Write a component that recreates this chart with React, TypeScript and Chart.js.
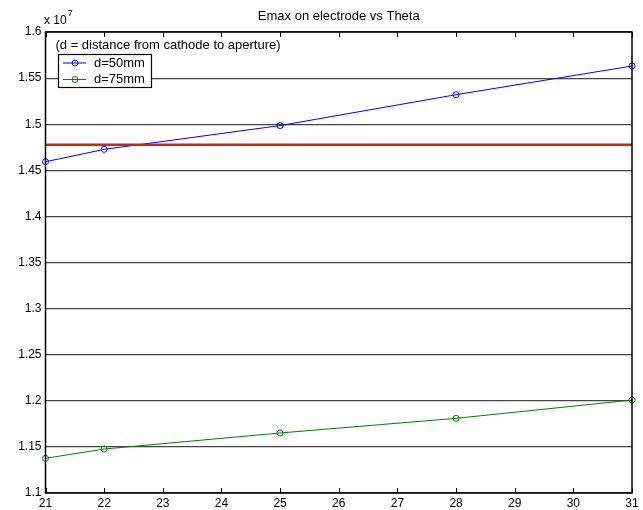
import React, { useEffect, useRef } from "react";
import { Chart, registerables } from "chart.js";

Chart.register(...registerables);

const thetaValues = [21, 22, 25, 28, 31];
const emaxD50 = [1.4593e7, 1.4727e7, 1.4985e7, 1.532e7, 1.5631e7];
const emaxD75 = [1.1376e7, 1.1477e7, 1.1651e7, 1.181e7, 1.2008e7];
const thresholdX = [21, 31];
const thresholdY = [1.4778e7, 1.4778e7];
const seriesLabels = ["d=50mm", "d=75mm"];
const titleText = "Emax on electrode vs Theta";
const legendTitle = "(d = distance from cathode to aperture)";

const FONT = "Arial, 'Liberation Sans', sans-serif";
const BLUE = "rgb(0,0,255)";
const GREEN = "rgb(0,128,0)";

const decorPlugin = {
  id: "decor",
  afterDraw(chart: any) {
    const ctx = chart.ctx;
    const a = chart.chartArea;
    const xs = chart.scales.x;
    ctx.save();
    // box
    ctx.strokeStyle = "#000";
    ctx.lineWidth = 1.5;
    ctx.strokeRect(a.left, a.top, a.right - a.left, a.bottom - a.top);
    // inward x ticks top & bottom
    ctx.lineWidth = 1;
    for (let v = 21; v <= 31; v++) {
      const px = Math.round(xs.getPixelForValue(v)) + 0.5;
      ctx.beginPath();
      ctx.moveTo(px, a.bottom);
      ctx.lineTo(px, a.bottom - 5);
      ctx.moveTo(px, a.top);
      ctx.lineTo(px, a.top + 5);
      ctx.stroke();
    }
    // title
    ctx.fillStyle = "#000";
    ctx.font = `13px ${FONT}`;
    ctx.textBaseline = "middle";
    ctx.textAlign = "center";
    ctx.fillText(titleText, (a.left + a.right) / 2, 16);
    // exponent
    ctx.textAlign = "left";
    ctx.font = `12px ${FONT}`;
    ctx.fillText("x 10", 44, 21);
    const w = ctx.measureText("x 10").width;
    ctx.font = `9px ${FONT}`;
    ctx.fillText("7", 44 + w + 1, 14);
    // legend title
    ctx.font = `13px ${FONT}`;
    ctx.fillText(legendTitle, 55.5, 45.5);
    // legend box
    ctx.fillStyle = "#fff";
    ctx.fillRect(58.5, 54.5, 93, 33);
    ctx.strokeStyle = "#000";
    ctx.lineWidth = 1.2;
    ctx.strokeRect(58.5, 54.5, 93, 33);
    const cols = [BLUE, GREEN];
    const ys = [63, 79.5];
    for (let i = 0; i < 2; i++) {
      ctx.strokeStyle = cols[i];
      ctx.lineWidth = 1;
      ctx.beginPath();
      ctx.moveTo(63, ys[i]);
      ctx.lineTo(86, ys[i]);
      ctx.stroke();
      ctx.beginPath();
      ctx.arc(75, ys[i], 3, 0, Math.PI * 2);
      ctx.stroke();
      ctx.fillStyle = "#000";
      ctx.fillText(seriesLabels[i], 94, ys[i]);
    }
    ctx.restore();
  },
};

export default function App() {
  const ref = useRef<HTMLCanvasElement>(null);
  useEffect(() => {
    if (!ref.current) return;
    const chart = new Chart(ref.current, {
      type: "line",
      data: {
        datasets: [
          {
            label: seriesLabels[0],
            data: thetaValues.map((x, i) => ({ x, y: emaxD50[i] })),
            borderColor: BLUE,
            backgroundColor: "rgba(0,0,0,0)",
            borderWidth: 1,
            pointRadius: 3,
            pointBorderWidth: 1,
            pointBorderColor: BLUE,
            pointBackgroundColor: "rgba(0,0,0,0)",
            clip: false,
            order: 2,
          },
          {
            label: seriesLabels[1],
            data: thetaValues.map((x, i) => ({ x, y: emaxD75[i] })),
            borderColor: GREEN,
            backgroundColor: "rgba(0,0,0,0)",
            borderWidth: 1,
            pointRadius: 3,
            pointBorderWidth: 1,
            pointBorderColor: GREEN,
            pointBackgroundColor: "rgba(0,0,0,0)",
            clip: false,
            order: 2,
          },
          {
            label: "threshold",
            data: thresholdX.map((x, i) => ({ x, y: thresholdY[i] })),
            borderColor: "rgb(222,32,8)",
            borderWidth: 2.5,
            pointRadius: 0,
            order: 1,
          },
        ],
      },
      options: {
        responsive: false,
        animation: false,
        devicePixelRatio: 1,
        layout: { padding: { left: 0, right: 11, top: 32, bottom: 0 } },
        plugins: { legend: { display: false }, title: { display: false }, tooltip: { enabled: false } },
        scales: {
          x: {
            type: "linear",
            min: 21,
            max: 31,
            border: { display: false },
            grid: { display: false, drawTicks: false },
            ticks: {
              stepSize: 1,
              padding: 3,
              color: "#000",
              font: { family: FONT, size: 12 },
              maxRotation: 0,
            },
            afterFit(scale: any) {
              scale.height = 17;
            },
          },
          y: {
            type: "linear",
            min: 1.1e7,
            max: 1.6e7,
            border: { display: false },
            grid: { color: "rgb(70,70,70)", lineWidth: 1.2, drawTicks: false },
            ticks: {
              stepSize: 0.05e7,
              padding: 4,
              color: "#000",
              font: { family: FONT, size: 12 },
              callback: (v: any) => String(Number((Number(v) / 1e7).toFixed(2))),
            },
            afterFit(scale: any) {
              scale.width = 45.5;
            },
          },
        },
      },
      plugins: [decorPlugin],
    });
    return () => chart.destroy();
  }, []);
  return (
    <div style={{ position: "fixed", left: 0, top: 0, width: 643, height: 510, background: "#fff" }}>
      <canvas ref={ref} width={643} height={510} />
    </div>
  );
}
